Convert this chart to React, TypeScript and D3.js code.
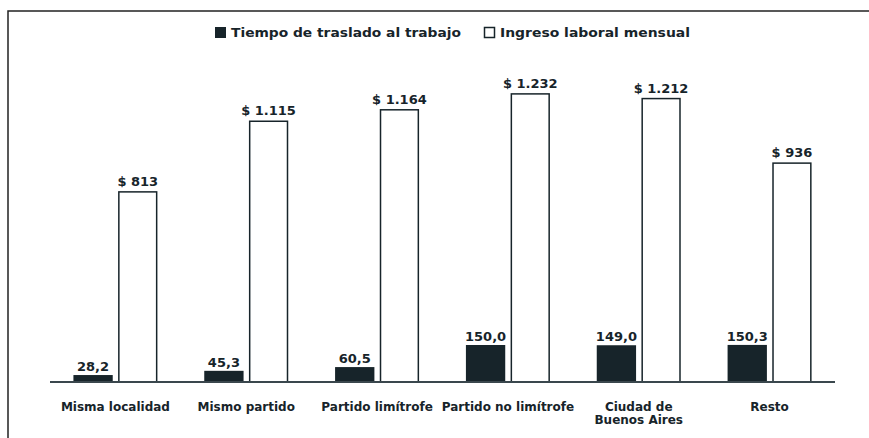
import React, { useEffect, useRef } from 'react';
import * as d3 from 'd3';

const categories = ['Misma localidad', 'Mismo partido', 'Partido limítrofe', 'Partido no limítrofe', 'Ciudad de Buenos Aires', 'Resto'];
const tiempo = [28.2, 45.3, 60.5, 150.0, 149.0, 150.3];
const ingreso = [813, 1115, 1164, 1232, 1212, 936];
const seriesNames = ['Tiempo de traslado al trabajo', 'Ingreso laboral mensual'];

const W = 869;
const H = 438;
const DARK = '#17242a';
const FONT = '"DejaVu Sans", Arial, sans-serif';

const fmtTiempo = (v: number) => d3.format('.1f')(v).replace('.', ',');
const fmtIngreso = (v: number) => '$ ' + d3.format(',')(v).replace(/,/g, '.');

export default function App() {
  const ref = useRef<SVGSVGElement>(null);

  useEffect(() => {
    const svg = d3.select(ref.current);
    svg.selectAll('*').remove();

    const axisY = 382;
    const x0 = d3.scaleBand().domain(categories).range([50, 835]).padding(0);
    const groupW = 84;
    const x1 = d3.scaleBand()
      .domain(['t', 'i'])
      .range([(x0.bandwidth() - groupW) / 2, (x0.bandwidth() + groupW) / 2])
      .paddingInner(0.12);
    const yIng = d3.scaleLinear().domain([0, 1300]).range([axisY, axisY - 304]);
    const yTie = d3.scaleLinear().domain([0, 1200]).range([axisY, axisY - 296]);

    // frame
    svg.append('rect')
      .attr('x', 8).attr('y', 11)
      .attr('width', W).attr('height', H)
      .attr('fill', 'none').attr('stroke', '#222').attr('stroke-width', 1.5);

    // legend
    const leg = svg.append('g').attr('font-family', FONT).attr('font-weight', 'bold')
      .attr('font-size', 12.5).attr('fill', DARK);
    leg.append('rect').attr('x', 215).attr('y', 27).attr('width', 11).attr('height', 11).attr('fill', DARK);
    leg.append('text').attr('x', 231).attr('y', 37)
      .attr('textLength', 230).attr('lengthAdjust', 'spacingAndGlyphs').text(seriesNames[0]);
    leg.append('rect').attr('x', 484.5).attr('y', 27.5).attr('width', 10).attr('height', 10)
      .attr('fill', 'white').attr('stroke', DARK).attr('stroke-width', 1.5);
    leg.append('text').attr('x', 500).attr('y', 37)
      .attr('textLength', 190).attr('lengthAdjust', 'spacingAndGlyphs').text(seriesNames[1]);

    const g = svg.selectAll('.grp').data(categories).enter().append('g')
      .attr('transform', (d) => `translate(${x0(d)},0)`);

    // time bars
    g.append('rect')
      .attr('x', x1('t')!)
      .attr('y', (d, i) => yTie(tiempo[i]))
      .attr('width', x1.bandwidth())
      .attr('height', (d, i) => axisY - yTie(tiempo[i]))
      .attr('fill', DARK);

    // income bars
    g.append('rect')
      .attr('x', x1('i')! + 0.75)
      .attr('y', (d, i) => yIng(ingreso[i]))
      .attr('width', x1.bandwidth() - 1.5)
      .attr('height', (d, i) => axisY - yIng(ingreso[i]))
      .attr('fill', 'white').attr('stroke', DARK).attr('stroke-width', 1.5);

    g.append('text')
      .attr('x', x1('t')! + x1.bandwidth() / 2)
      .attr('y', (d, i) => yTie(tiempo[i]) - 4)
      .attr('text-anchor', 'middle')
      .attr('font-family', FONT).attr('font-weight', 'bold').attr('font-size', 13)
      .attr('fill', DARK)
      .text((d, i) => fmtTiempo(tiempo[i]));

    g.append('text')
      .attr('x', x1('i')! + x1.bandwidth() / 2)
      .attr('y', (d, i) => yIng(ingreso[i]) - 6)
      .attr('text-anchor', 'middle')
      .attr('font-family', FONT).attr('font-weight', 'bold').attr('font-size', 13)
      .attr('fill', DARK)
      .text((d, i) => fmtIngreso(ingreso[i]));

    // category labels
    const lab = g.append('text')
      .attr('text-anchor', 'middle')
      .attr('font-family', FONT).attr('font-weight', 'bold').attr('font-size', 12)
      .attr('fill', DARK);
    lab.each(function (d) {
      const t = d3.select(this);
      const lines = d === 'Ciudad de Buenos Aires' ? ['Ciudad de', 'Buenos Aires'] : [d];
      lines.forEach((l, k) => {
        t.append('tspan').attr('x', x0.bandwidth() / 2).attr('y', 411 + k * 13).text(l);
      });
    });

    // axis baseline
    svg.append('line')
      .attr('x1', 50).attr('x2', 835)
      .attr('y1', axisY).attr('y2', axisY)
      .attr('stroke', '#3a474d').attr('stroke-width', 2);
  }, []);

  return (
    <svg ref={ref} width={W} height={H} style={{ position: 'absolute', left: 0, top: 0 }} />
  );
}
